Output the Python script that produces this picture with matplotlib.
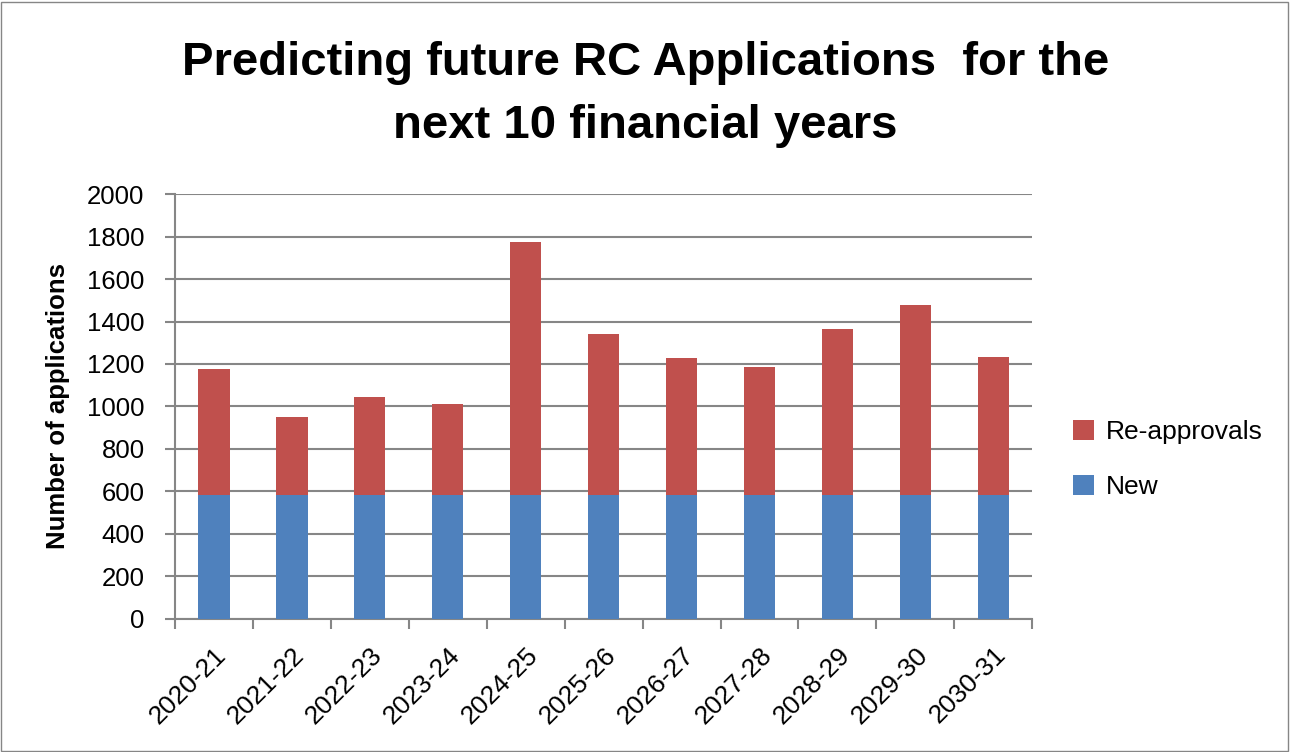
import matplotlib.pyplot as plt
import numpy as np

# financial years on the x axis
years = ["2020-21", "2021-22", "2022-23", "2023-24", "2024-25", "2025-26",
         "2026-27", "2027-28", "2028-29", "2029-30", "2030-31"]

# stacked series
new_apps = [585, 585, 585, 585, 585, 585, 585, 585, 585, 585, 585]
re_approvals = [593, 365, 459, 429, 1191, 754, 642, 603, 781, 895, 650]

blue = "#4F81BD"
red = "#C0504D"
axis_grey = "#868686"

plt.rcParams['font.family'] = ['Liberation Sans', 'DejaVu Sans']

fig = plt.figure(figsize=(12.91, 7.52), dpi=100)
ax = fig.add_axes([0.1356, 0.1769, 0.664, 0.5651])

x = np.arange(len(years))
ax.bar(x, new_apps, width=0.4, color=blue, label="New", zorder=3)
ax.bar(x, re_approvals, width=0.4, bottom=new_apps, color=red,
       label="Re-approvals", zorder=3)

ax.set_xlim(-0.5, len(years) - 0.5)
ax.set_ylim(0, 2000)
ax.set_yticks(np.arange(0, 2001, 200))
ax.grid(axis='y', color=axis_grey, linewidth=1.5, zorder=0)

# x ticks sit between the categories, labels under each bar
ax.set_xticks(np.arange(-0.5, len(years), 1.0))
ax.set_xticklabels([])
ax.set_xticks(x, minor=True)
ax.set_xticklabels(years, minor=True, rotation=45, ha='right',
                   rotation_mode='anchor', fontsize=19)
ax.tick_params(axis='x', which='minor', length=0, pad=17)
ax.tick_params(axis='x', which='major', length=7, width=1.5, color=axis_grey)
ax.tick_params(axis='y', length=7, width=1.5, color=axis_grey, labelsize=18.5, pad=15)

for side in ['top', 'right']:
    ax.spines[side].set_visible(False)
for side in ['left', 'bottom']:
    ax.spines[side].set_color(axis_grey)
    ax.spines[side].set_linewidth(1.5)

ax.set_ylabel("Number of applications", fontsize=18.5, fontweight='bold', labelpad=12)

fig.suptitle("Predicting future RC Applications  for the\nnext 10 financial years",
             fontsize=34, fontweight='bold', y=0.945, linespacing=1.55)

handles, labels = ax.get_legend_handles_labels()
ax.legend(handles[::-1], labels[::-1], loc='center left',
          bbox_to_anchor=(1.02, 0.375), frameon=False, fontsize=19,
          handlelength=0.8, handleheight=0.8, labelspacing=1.15, handletextpad=0.45)

# thin frame around the whole chart
fig.patches.append(plt.Rectangle((0.001, 0.001), 0.997, 0.997, transform=fig.transFigure,
                                 fill=False, edgecolor=axis_grey, linewidth=1))

fig.savefig("out.png", dpi=100, facecolor='white')
